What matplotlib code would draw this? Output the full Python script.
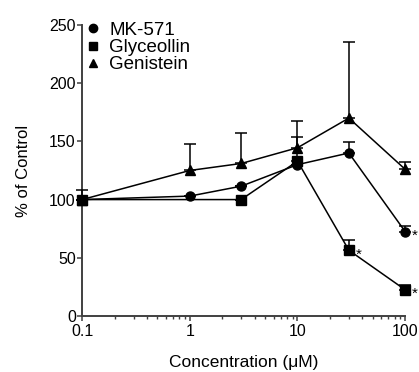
import matplotlib
matplotlib.use("Agg")
import matplotlib.pyplot as plt
import numpy as np

plt.rcParams['font.family'] = ['Liberation Sans', 'DejaVu Sans']

# MK-571 (% of control) and upper error
mk_x = [0.1, 1, 3, 10, 30, 100]
mk_y = [100, 103, 111.5, 130, 140, 72.5]
mk_err = [0, 0, 0, 0, 9.5, 5]

# Glyceollin
gly_x = [0.1, 3, 10, 30, 100]
gly_y = [100, 100, 133, 56.5, 22.5]
gly_err = [8, 0, 21, 9, 4]

# Genistein
gen_x = [0.1, 1, 3, 10, 30, 100]
gen_y = [100, 125, 131, 144.5, 170, 126]
gen_err = [0, 22.5, 26, 23, 65, 6.5]

# significance marks
star_x = [30, 100, 100]
star_y = [56.5, 72.5, 22.5]

fig = plt.figure(figsize=(4.19, 3.72), dpi=100)
ax = fig.add_axes([0.196, 0.1505, 0.771, 0.7825])

series = [
    ("MK-571", mk_x, mk_y, mk_err, "o", 6.5),
    ("Glyceollin", gly_x, gly_y, gly_err, "s", 6.5),
    ("Genistein", gen_x, gen_y, gen_err, "^", 6.5),
]
for name, x, y, e, m, ms in series:
    ax.errorbar(x, y, yerr=[np.zeros(len(e)), e], color="black", lw=1.1,
                marker=m, ms=ms, capsize=4, capthick=1.1, elinewidth=1.1,
                clip_on=False, zorder=3)
    ax.plot([], [], ls="none", marker=m, color="black", ms=6, label=name)

for sx, sy in zip(star_x, star_y):
    ax.annotate("*", (sx, sy), xytext=(5, -3), textcoords="offset points",
                fontsize=11, va="center", ha="left")

ax.set_xscale("log")
ax.set_xlim(0.1, 100)
ax.set_ylim(0, 250)
ax.set_xticks([0.1, 1, 10, 100])
ax.set_xticklabels(["0.1", "1", "10", "100"])
ax.set_yticks([0, 50, 100, 150, 200, 250])

for s in ["top", "right"]:
    ax.spines[s].set_visible(False)
for s in ["left", "bottom"]:
    ax.spines[s].set_color("#404040")
    ax.spines[s].set_linewidth(1.4)
ax.tick_params(axis="both", which="major", direction="out", length=3.5,
               width=1.1, color="#404040", labelsize=11.5, pad=1)
ax.tick_params(axis="x", which="major", pad=2.5)
ax.tick_params(axis="x", which="minor", direction="out", length=2.5,
               width=1, color="#404040")

ax.set_xlabel("Concentration (\u03bcM)", fontsize=12.5, labelpad=11)
ax.set_ylabel("% of Control", fontsize=12, labelpad=13)

ax.legend(loc="upper left", frameon=False, fontsize=13.5, handlelength=0.6,
          handletextpad=0.55, labelspacing=0.0, borderaxespad=0.1,
          borderpad=0.2, bbox_to_anchor=(0.0, 1.03))

fig.savefig("out.png", dpi=100)
